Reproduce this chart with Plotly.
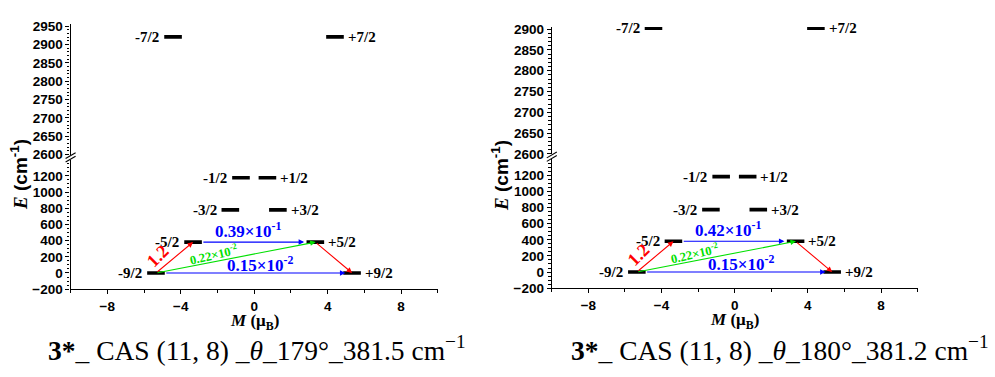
import plotly.graph_objects as go

W, H = 995, 377

# ---------------- data ----------------
states = ["-9/2", "+9/2", "-5/2", "+5/2", "-3/2", "+3/2", "-1/2", "+1/2", "-7/2", "+7/2"]
M_left = [-5.35, 5.33, -3.33, 3.33, -1.30, 1.29, -0.72, 0.72, -4.42, 4.40]
E_left = [0, 0, 381.5, 381.5, 780, 780, 1176, 1176, 2921, 2921]
M_right = [-5.35, 5.33, -3.35, 3.33, -1.30, 1.29, -0.74, 0.71, -4.44, 4.44]
E_right = [0, 0, 381.2, 381.2, 773, 773, 1183, 1183, 2902, 2902]

trans_from = ["-9/2", "-5/2", "-9/2", "-9/2", "+5/2"]
trans_to = ["-5/2", "+5/2", "+5/2", "+9/2", "+9/2"]
trans_color = ["#ff0000", "#0000ff", "#00e000", "#0000ff", "#ff0000"]
labels_left = ["1.2", "0.39×10<sup>-1</sup>", "0.22×10<sup>-2</sup>", "0.15×10<sup>-2</sup>", ""]
labels_right = ["1.2", "0.42×10<sup>-1</sup>", "0.22×10<sup>-2</sup>", "0.15×10<sup>-2</sup>", ""]

captions = ["<b>3*</b>_ CAS (11, 8) _<i>θ</i>_179°_381.5 cm<sup>−1</sup>",
            "<b>3*</b>_ CAS (11, 8) _<i>θ</i>_180°_381.2 cm<sup>−1</sup>"]

x_range = [-10, 10]
low_range = [-200, 1395]
up_range_left = [2600, 2955]
up_range_right = [2600, 2905]
BREAK_E = 2000

# ---------------- layout geometry (pixels) ----------------
def fx(p):
    return p / W

def fy(p):
    return 1 - p / H

panels = [
    dict(M=M_left, E=E_left, labels=labels_left, up=up_range_left,
         xpix=(70.6, 437.8), low_pix=(294.3, 160.6), up_pix=(155.0, 20.1),
         caption_x=257, ytitle_x=19, xtitle_y=328),
    dict(M=M_right, E=E_right, labels=labels_right, up=up_range_right,
         xpix=(551.8, 917.6), low_pix=(293.3, 160.0), up_pix=(154.3, 22.8),
         caption_x=780, ytitle_x=500, xtitle_y=327),
]

fig = go.Figure()
layout = {}
annotations = []
shapes = []

tickfont = dict(family="Liberation Sans", size=13.5, color="black")
serif = "Liberation Serif"
HW = 0.48  # half width of level bars (M units)

# label offsets (pixels) relative to arrow midpoints: (xshift, yshift, size, angle)
label_style = [(-17, 2, 18, -45), (-5, 12, 17, 0), (-22, 4, 12.5, -13), (5, 9, 17, 0), (0, 0, 12, 0)]
label_anchor = [("c", "c"), ("r", "l"), ("c", "c"), ("r", "l"), ("c", "c")]
head_adj = [0.0, -0.13, 0.02, 0.12, 0.0]

def axis_common():
    return dict(showline=True, linecolor="black", linewidth=1.3, ticks="outside", ticklen=4,
                tickwidth=1.2, tickcolor="black", tickfont=tickfont, tickprefix="<b>",
                ticksuffix="</b>", showgrid=False, zeroline=False, fixedrange=True)

for i, p in enumerate(panels):
    xl = "x" if i == 0 else f"x{2*i+1}"
    yl = "y" if i == 0 else f"y{2*i+1}"
    xu = f"x{2*i+2}"
    yu = f"y{2*i+2}"
    xl_key = "xaxis" if i == 0 else f"xaxis{2*i+1}"
    yl_key = "yaxis" if i == 0 else f"yaxis{2*i+1}"
    xu_key = f"xaxis{2*i+2}"
    yu_key = f"yaxis{2*i+2}"
    xdom = [fx(p["xpix"][0]), fx(p["xpix"][1])]
    low_dom = [fy(p["low_pix"][0]), fy(p["low_pix"][1])]
    up_dom = [fy(p["up_pix"][0]), fy(p["up_pix"][1])]

    layout[xl_key] = dict(domain=xdom, range=x_range, anchor=yl, dtick=4, tick0=0,
                          minor=dict(ticks="outside", ticklen=3, dtick=2, tickcolor="black", tickwidth=1),
                          **axis_common())
    layout[xu_key] = dict(domain=xdom, range=x_range, anchor=yu, visible=False, matches=xl)
    layout[yl_key] = dict(domain=low_dom, range=low_range, anchor=xl, dtick=200, tick0=0,
                          minor=dict(ticks="outside", ticklen=2.5, dtick=50, tickcolor="black", tickwidth=1),
                          **axis_common())
    layout[yu_key] = dict(domain=up_dom, range=p["up"], anchor=xu, dtick=50, tick0=2600,
                          minor=dict(ticks="outside", ticklen=2.5, dtick=10, tickcolor="black", tickwidth=1),
                          **axis_common())

    # level bars
    for yax, xax, cond in ((yl, xl, lambda e: e < BREAK_E), (yu, xu, lambda e: e >= BREAK_E)):
        xs, ys = [], []
        for m, e in zip(p["M"], p["E"]):
            if cond(e):
                xs += [m - HW, m + HW, None]
                ys += [e, e, None]
        fig.add_trace(go.Scatter(x=xs, y=ys, xaxis=xax, yaxis=yax, mode="lines",
                                 line=dict(color="black", width=3.6), hoverinfo="skip",
                                 showlegend=False))

    # level labels
    for s, m, e in zip(states, p["M"], p["E"]):
        neg = s.startswith("-")
        xa, ya = (xl, yl) if e < BREAK_E else (xu, yu)
        annotations.append(dict(x=m - HW if neg else m + HW, y=e, xref=xa, yref=ya,
                                text=f"<b>{s}</b>", showarrow=False, xanchor="right" if neg else "left",
                                xshift=-3 if neg else 2, yanchor="middle",
                                font=dict(family=serif, size=15, color="black")))

    # transitions
    idx = {s: k for k, s in enumerate(states)}
    for k, (a, b) in enumerate(zip(trans_from, trans_to)):
        ta, hb = label_anchor[k]
        ma, ea = p["M"][idx[a]], p["E"][idx[a]]
        mb, eb = p["M"][idx[b]], p["E"][idx[b]]
        tx = ma + (HW if ta == "r" else (-HW if ta == "l" else 0))
        hx = mb + (-HW if hb == "l" else (HW if hb == "r" else 0)) + head_adj[k]
        annotations.append(dict(x=hx, y=eb, ax=tx, ay=ea, xref=xl, yref=yl, axref=xl, ayref=yl,
                                text="", showarrow=True, arrowhead=2, arrowsize=1.0, arrowwidth=1.1,
                                arrowcolor=trans_color[k], standoff=0, startstandoff=0))
        lab = p["labels"][k]
        if lab:
            xs_, ys_, sz, ang = label_style[k]
            annotations.append(dict(x=(tx + hx) / 2, y=(ea + eb) / 2, xref=xl, yref=yl, text=f"<b>{lab}</b>",
                                    showarrow=False, xshift=xs_, yshift=ys_, textangle=ang,
                                    font=dict(family=serif, size=sz, color=trans_color[k])))

    # axis titles
    annotations.append(dict(x=fx(p["ytitle_x"]), y=fy(176), xref="paper", yref="paper", textangle=-90,
                            showarrow=False, xanchor="center", yanchor="middle",
                            text="<b><i>E</i></b><span style='font-family:Liberation Sans'><b> (cm<sup>-1</sup>)</b></span>",
                            font=dict(family=serif, size=19, color="black")))
    xmid = (p["xpix"][0] + p["xpix"][1]) / 2
    annotations.append(dict(x=fx(xmid), y=fy(p["xtitle_y"]), xref="paper", yref="paper",
                            showarrow=False, xanchor="center", yanchor="middle",
                            text="<b><i>M</i> (μ<sub>B</sub>)</b>",
                            font=dict(family=serif, size=17, color="black")))
    # caption
    annotations.append(dict(x=fx(p["caption_x"]), y=fy(356), xref="paper", yref="paper",
                            showarrow=False, xanchor="center", yanchor="middle",
                            text=captions[i], font=dict(family=serif, size=27.5, color="black")))

    # axis break marks
    xa0 = p["xpix"][0]
    ymid = (p["up_pix"][0] + p["low_pix"][1]) / 2
    for off in (-1.8, 1.8):
        shapes.append(dict(type="line", xref="paper", yref="paper",
                           x0=fx(xa0 - 5), y0=fy(ymid + 3 + off), x1=fx(xa0 + 5), y1=fy(ymid - 3 + off),
                           line=dict(color="black", width=1.1)))

fig.update_layout(**layout)
fig.update_layout(width=W, height=H, margin=dict(l=0, r=0, t=0, b=0),
                  paper_bgcolor="white", plot_bgcolor="white",
                  annotations=annotations, shapes=shapes, showlegend=False)

fig.write_html("out.html", config={"displayModeBar": False})
